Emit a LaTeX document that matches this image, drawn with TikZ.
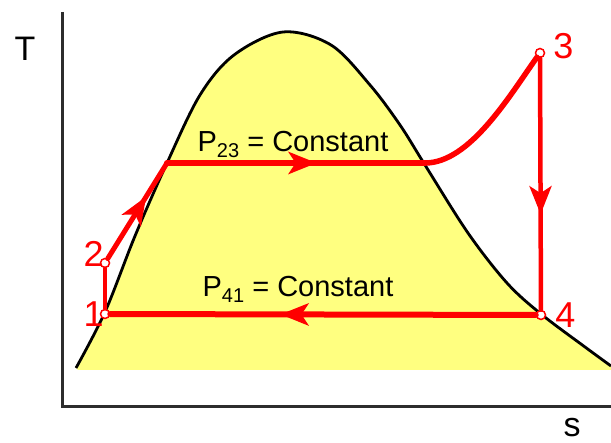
\documentclass[tikz,border=0pt]{standalone}
\usepackage{fontspec}
\setmainfont{Liberation Sans}
\usetikzlibrary{positioning,arrows.meta,decorations.markings}
\definecolor{satyellow}{RGB}{255,255,128}
\definecolor{axisgray}{RGB}{45,45,45}
\tikzset{
  pt/.style={circle, draw=red, fill=white, line width=1.5pt, inner sep=0pt, minimum size=9pt},
  num/.style={text=red, font=\fontsize{36}{36}\selectfont, inner sep=0pt},
  lbl/.style={font=\fontsize{29}{32}\selectfont, inner sep=0pt, anchor=base},
  axislbl/.style={font=\fontsize{34}{34}\selectfont, inner sep=0pt},
  redline/.style={draw=red, line width=#1, line cap=round},
  midarrow/.style={postaction={decorate}, decoration={markings,
    mark=at position #1 with {\arrow{Stealth[length=28pt,width=22pt,inset=7pt]}}}}
}
\begin{document}
\begin{tikzpicture}[x=1pt,y=-1pt]
\useasboundingbox (0,0) rectangle (611,443);
% saturation dome
\fill[satyellow] plot[smooth, tension=0.55] coordinates {(76,368) (105,312) (135,236) (167,163) (200,95) (234,55) (283,32) (331,45) (370,85) (400,125) (425,165) (468,233) (507,283) (541,314) (585,347) (611,366)}
  -- (611,370) -- (78,370) -- cycle;
\draw[line width=2.8pt] plot[smooth, tension=0.55] coordinates {(76,368) (105,312) (135,236) (167,163) (200,95) (234,55) (283,32) (331,45) (370,85) (400,125) (425,165) (468,233) (507,283) (541,314) (585,347) (611,366)};
% axes
\draw[axisgray, line width=3pt] (62,12) -- (62,407) -- (611,407);
\node[axislbl] (tlab) at (25,49) {T};
\node[axislbl] (slab) at (572,428) {s};
% state points
\coordinate (c2) at (167,163);
\coordinate (c3) at (425,163);
\node[pt] (p1) at (105,314) {};
\node[pt] (p2) at (105,263) {};
\node[pt] (p3) at (540,53) {};
\node[pt] (p4) at (541,315) {};
% cycle
\draw[redline=3.5pt] (p1) -- (p2);
\draw[redline=5pt, midarrow=0.65] (p2) -- (c2);
\draw[redline=6pt, midarrow=0.58] (c2) -- (c3);
\draw[redline=5.5pt] (c3) .. controls (470,163) and (510,95) .. (p3);
\draw[redline=4.5pt, midarrow=0.62] (p3) -- (p4);
\draw[redline=6pt, midarrow=0.6] (p4) -- (p1);
% labels
\node[lbl] (p23) at (293,152) {P\raisebox{-6pt}{\fontsize{20}{20}\selectfont 23} = Constant};
\node[lbl] (p41) at (298,297) {P\raisebox{-6pt}{\fontsize{20}{20}\selectfont 41} = Constant};
\node[num, left=-4pt of p1] (l1) {1};
\node[num, left=-4pt of p2, yshift=9pt] (l2) {2};
\node[num, right=8pt of p3, yshift=7pt] (l3) {3};
\node[num, right=9pt of p4] (l4) {4};
\end{tikzpicture}
\end{document}
